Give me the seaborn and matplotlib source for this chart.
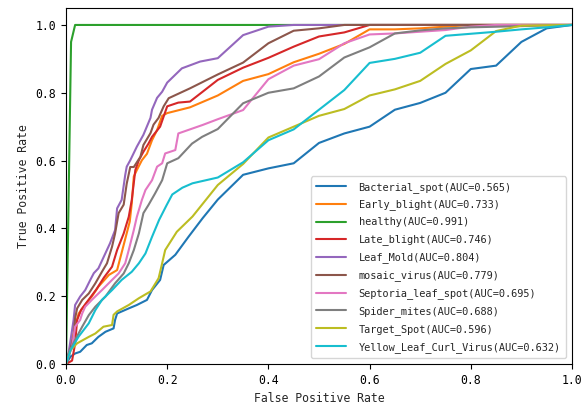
import matplotlib
matplotlib.use("Agg")
import matplotlib.pyplot as plt
import seaborn as sns
import pandas as pd

classes = ["Bacterial_spot", "Early_blight", "healthy", "Late_blight", "Leaf_Mold",
           "mosaic_virus", "Septoria_leaf_spot", "Spider_mites", "Target_Spot",
           "Yellow_Leaf_Curl_Virus"]
auc_values = [0.565, 0.733, 0.991, 0.746, 0.804, 0.779, 0.695, 0.688, 0.596, 0.632]

fpr_bacterial = [0, .009, .018, .028, .041, .051, .064, .078, .094, .097, .101, .124, .14, .16, .17, .186,
                 .193, .216, .242, .27, .30, .35, .40, .45, .50, .55, .60, .65, .70, .75, .80, .85, .90, .95, 1.0]
tpr_bacterial = [0, .022, .031, .036, .056, .061, .08, .095, .105, .13, .149, .164, .174, .189, .218, .248,
                 .292, .322, .375, .43, .485, .558, .577, .592, .652, .68, .70, .75, .77, .80, .87, .88, .95, .99, 1.0]

fpr_early = [0, .009, .018, .025, .04, .051, .064, .085, .101, .126, .13, .134, .14, .15, .16, .17, .18, .19,
             .20, .245, .30, .35, .40, .45, .50, .55, .60, .65, .70, .75, .80, 1.0]
tpr_early = [0, .051, .11, .149, .179, .199, .228, .263, .277, .42, .474, .553, .572, .601, .62, .66, .69, .732,
             .74, .757, .792, .835, .855, .89, .915, .944, .987, .987, .99, .995, 1.0, 1.0]

fpr_healthy = [0, .01, .018, 1.0]
tpr_healthy = [0, .95, 1.0, 1.0]

fpr_late = [0, .012, .018, .022, .03, .045, .06, .075, .091, .101, .114, .124, .13, .137, .144, .153, .163,
            .17, .186, .193, .20, .222, .245, .27, .30, .35, .40, .45, .50, .55, .60, 1.0]
tpr_late = [0, .01, .06, .13, .16, .19, .22, .255, .287, .336, .385, .434, .484, .572, .601, .626, .65,
            .67, .70, .73, .76, .771, .774, .803, .838, .874, .903, .936, .966, .978, 1.0, 1.0]

fpr_mold = [0, .005, .015, .018, .028, .038, .048, .055, .064, .078, .087, .097, .101, .11, .117, .12, .127,
            .14, .153, .167, .17, .18, .19, .20, .229, .265, .30, .35, .40, .45, 1.0]
tpr_mold = [0, .031, .13, .174, .199, .218, .248, .268, .282, .327, .356, .395, .459, .484, .557, .582, .601,
            .641, .676, .726, .75, .785, .803, .83, .872, .892, .902, .97, .995, 1.0, 1.0]

fpr_mosaic = [0, .005, .015, .018, .022, .032, .045, .058, .071, .081, .091, .097, .104, .114, .12, .127, .134,
              .147, .153, .167, .173, .183, .193, .203, .245, .30, .35, .40, .45, .50, .55, 1.0]
tpr_mosaic = [0, .02, .081, .135, .164, .189, .208, .238, .272, .297, .346, .385, .445, .47, .532, .581, .581,
              .611, .646, .681, .706, .726, .76, .784, .813, .854, .889, .946, .983, .99, 1.0, 1.0]

fpr_septoria = [0, .002, .012, .018, .028, .032, .038, .051, .071, .091, .104, .117, .124, .134, .14, .15, .157,
                .17, .18, .19, .196, .216, .222, .27, .30, .35, .40, .45, .50, .55, .60, .65, .70, .75, .80, .85, 1.0]
tpr_septoria = [0, .01, .051, .11, .13, .149, .169, .189, .218, .248, .267, .297, .336, .395, .434, .484, .513,
                .542, .582, .592, .621, .631, .68, .705, .722, .749, .84, .88, .899, .946, .972, .975, .98, .985,
                .995, 1.0, 1.0]

fpr_spider = [0, .005, .018, .032, .045, .058, .078, .097, .114, .124, .134, .144, .153, .163, .176, .19, .20,
              .222, .249, .269, .30, .35, .40, .45, .50, .55, .60, .65, .70, .75, .80, 1.0]
tpr_spider = [0, .031, .071, .11, .144, .169, .199, .238, .267, .297, .336, .385, .445, .469, .503, .542, .592,
              .607, .65, .67, .693, .769, .80, .813, .848, .904, .934, .975, .984, .99, .993, 1.0]

fpr_target = [0, .009, .022, .045, .058, .074, .091, .094, .101, .124, .144, .167, .183, .19, .196, .219, .25,
              .30, .35, .40, .45, .50, .55, .60, .65, .70, .75, .80, .85, .90, 1.0]
tpr_target = [0, .041, .061, .08, .09, .11, .115, .145, .155, .174, .194, .214, .253, .297, .336, .39, .435,
              .528, .59, .668, .70, .732, .752, .792, .81, .835, .885, .925, .982, .998, 1.0]

fpr_yellow = [0, .009, .025, .045, .058, .071, .091, .11, .13, .144, .157, .17, .184, .199, .21, .23, .25, .30,
              .35, .40, .45, .50, .55, .60, .65, .70, .75, .80, .85, .90, .95, 1.0]
tpr_yellow = [0, .041, .081, .12, .159, .189, .218, .248, .272, .297, .326, .375, .425, .469, .50, .52, .533,
              .55, .595, .66, .692, .75, .808, .888, .90, .918, .968, .974, .98, .987, .993, 1.0]

fprs = [fpr_bacterial, fpr_early, fpr_healthy, fpr_late, fpr_mold, fpr_mosaic,
        fpr_septoria, fpr_spider, fpr_target, fpr_yellow]
tprs = [tpr_bacterial, tpr_early, tpr_healthy, tpr_late, tpr_mold, tpr_mosaic,
        tpr_septoria, tpr_spider, tpr_target, tpr_yellow]

rows = []
for name, auc, fx, ty in zip(classes, auc_values, fprs, tprs):
    label = f"{name}(AUC={auc:.3f})"
    for i, (a, b) in enumerate(zip(fx, ty)):
        rows.append({"label": label, "order": i, "fpr": a, "tpr": b})
df = pd.DataFrame(rows)

sns.set_style("white")
plt.rcParams['font.family'] = ['DejaVu Sans Mono', 'DejaVu Sans']

fig = plt.figure(figsize=(5.88, 4.05), dpi=100)
ax = fig.add_axes([66 / 588, 41 / 405, 506 / 588, 356 / 405])

palette = sns.color_palette("tab10", len(classes))
sns.lineplot(data=df, x="fpr", y="tpr", hue="label", units="label", estimator=None,
             sort=False, palette=palette, linewidth=1.5, ax=ax, legend=True)

ax.set_xlim(0, 1.0)
ax.set_ylim(0, 1.05)
ax.set_xticks([0, 0.2, 0.4, 0.6, 0.8, 1.0])
ax.set_yticks([0, 0.2, 0.4, 0.6, 0.8, 1.0])
ax.set_xticklabels(["0.0", "0.2", "0.4", "0.6", "0.8", "1.0"])
ax.set_yticklabels(["0.0", "0.2", "0.4", "0.6", "0.8", "1.0"])
ax.tick_params(axis="both", which="both", direction="out", length=3.5, width=0.8,
               labelsize=8.3, bottom=True, left=True, colors="black")
ax.set_xlabel("False Positive Rate", fontsize=8.3)
ax.set_ylabel("True Positive Rate", fontsize=8.3)
for s in ax.spines.values():
    s.set_color("black")
    s.set_linewidth(0.8)

leg = ax.legend(loc="lower right", fontsize=7.4, handlelength=2.9, handletextpad=1.2,
                labelspacing=0.68, borderpad=0.5, borderaxespad=0.6, framealpha=0.8,
                edgecolor="0.8", fancybox=True)
for line in leg.get_lines():
    line.set_linewidth(1.5)

fig.savefig("out.png", dpi=100)
